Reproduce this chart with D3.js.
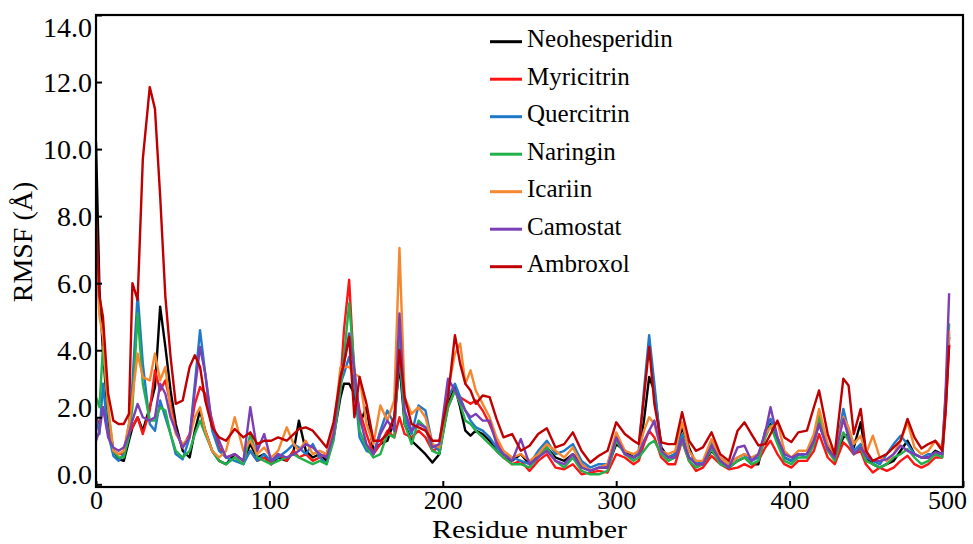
<!DOCTYPE html>
<html><head><meta charset="utf-8">
<script src="https://cdn.jsdelivr.net/npm/d3@7"></script>
<style>
body{margin:0;background:#fff;}
svg{display:block;}
text{font-family:"Liberation Serif","Tinos","Times New Roman",serif;fill:#000;}
</style>
</head><body><svg id="chart" width="973" height="544"></svg>
<script>
const residues = [
  0,2,4,7,10,13,16,19,21,24,
  27,31,34,37,40,43,46,50,54,57,
  60,63,67,71,75,80,85,89,93,97,
  101,105,110,114,117,121,125,129,133,137,
  141,143,146,149,152,156,160,164,168,172,
  175,178,182,186,190,194,198,203,207,210,
  213,216,219,223,227,231,235,240,245,250,
  255,260,265,270,275,280,285,290,295,300,
  305,310,313,316,319,322,326,330,334,338,
  342,346,350,355,360,365,370,374,378,382,
  386,389,393,397,401,405,410,414,417,422,
  426,431,434,437,441,444,448,452,456,460,
  464,468,472,476,480,484,488,490,492
];
const neohesperidin = [
  10.2,5.8,4.0,1.9,1.0,0.75,0.7,1.3,1.7,2.0,
  1.6,2.3,2.9,5.3,4.1,2.8,1.8,1.0,0.8,1.6,
  2.2,1.6,1.0,0.7,0.6,0.9,0.7,1.2,0.8,0.9,
  0.6,0.8,0.7,1.0,1.9,1.0,0.8,0.9,0.7,1.4,
  2.6,3.0,3.0,2.7,1.8,2.3,1.0,1.2,1.3,1.9,
  3.6,1.8,1.3,1.1,0.9,0.65,0.9,2.4,2.9,2.3,
  1.6,1.45,1.6,1.5,1.3,1.0,0.8,0.7,0.9,0.6,
  0.9,1.1,0.8,0.7,0.9,0.6,0.4,0.5,0.5,1.2,
  1.0,0.8,0.9,1.9,3.2,2.8,1.1,0.8,0.9,1.7,
  1.1,0.6,0.6,1.0,0.7,0.5,0.7,0.8,0.6,0.6,
  1.6,1.8,1.3,0.8,0.7,0.9,0.9,1.3,1.8,1.1,
  0.8,1.4,1.5,1.1,1.85,0.8,0.6,0.5,0.6,0.7,
  1.0,1.3,0.9,0.8,0.8,1.0,0.9,2.5,4.4
];
const myricitrin = [
  2.0,1.8,2.3,1.6,1.0,0.9,0.9,1.5,1.7,2.0,
  1.5,2.2,3.4,2.8,3.1,2.4,1.6,1.1,1.5,2.4,
  2.9,2.7,1.9,1.1,0.8,0.9,0.7,1.0,0.7,0.8,
  0.6,0.9,0.7,1.0,0.8,0.9,0.7,0.8,0.9,1.6,
  3.0,4.6,6.1,3.2,2.2,1.5,0.9,1.2,1.6,1.4,
  2.0,1.5,1.4,1.6,1.4,1.0,1.1,2.3,2.8,2.6,
  2.5,2.4,2.5,2.2,1.8,1.3,0.8,0.6,0.7,0.4,
  0.7,0.9,0.5,0.45,0.6,0.3,0.35,0.4,0.35,0.9,
  0.8,0.6,0.7,1.2,1.6,1.4,0.8,0.6,0.6,1.3,
  0.7,0.4,0.5,0.85,0.6,0.45,0.5,0.6,0.5,0.7,
  1.1,1.3,0.9,0.6,0.5,0.7,0.7,1.0,1.5,0.8,
  0.6,1.25,1.1,0.9,1.0,0.6,0.35,0.5,0.4,0.5,
  0.7,0.85,0.6,0.5,0.6,0.8,0.8,2.2,4.2
];
const quercitrin = [
  2.0,1.5,3.0,1.5,0.85,0.7,0.9,1.8,3.0,5.7,
  3.6,1.8,1.6,2.5,2.0,1.5,0.9,0.75,1.4,3.0,
  4.6,3.3,1.6,1.0,0.8,0.7,0.6,1.0,0.7,0.9,
  0.7,0.8,1.0,1.2,1.1,0.9,1.2,0.8,0.6,1.4,
  3.0,3.3,3.8,3.0,1.4,1.0,0.9,1.6,2.2,1.8,
  3.8,2.0,1.5,2.35,2.2,1.2,1.0,2.6,3.0,2.6,
  2.2,1.9,1.7,1.6,1.4,1.1,0.9,0.8,0.7,0.6,
  1.0,1.3,0.9,1.0,1.2,0.7,0.5,0.6,0.6,1.4,
  0.9,0.8,1.0,2.8,4.45,3.0,1.0,0.8,0.9,1.5,
  0.8,0.7,0.6,1.25,0.8,0.6,0.8,0.9,0.7,0.8,
  1.6,1.95,1.4,0.8,0.7,0.9,0.8,1.2,1.85,1.0,
  0.8,2.25,1.6,1.0,1.2,0.8,0.7,0.6,0.9,1.2,
  1.45,1.2,0.9,0.8,0.9,0.9,0.9,2.4,4.5
];
const naringin = [
  2.6,2.3,4.1,2.2,1.0,0.8,0.8,1.4,2.3,5.1,
  3.0,1.9,1.9,2.3,2.2,1.5,1.0,0.8,1.0,1.5,
  1.9,1.5,1.0,0.7,0.6,0.8,0.6,1.5,0.8,0.7,
  0.6,0.7,0.8,0.9,0.8,0.7,0.6,0.7,0.6,1.3,
  2.8,3.8,5.4,3.5,1.6,1.1,0.8,0.9,1.5,1.4,
  4.35,1.8,1.2,1.9,1.7,1.0,0.9,2.3,2.8,2.4,
  1.9,1.8,1.6,1.4,1.2,1.0,0.8,0.6,0.6,0.5,
  0.8,1.1,0.7,0.5,0.8,0.4,0.3,0.3,0.4,1.3,
  0.9,0.7,0.8,1.0,1.2,1.3,0.9,0.7,0.8,1.3,
  0.7,0.5,0.6,1.05,0.6,0.5,0.7,0.8,0.6,0.7,
  1.4,1.75,1.2,0.7,0.6,0.8,0.8,1.2,2.05,1.0,
  0.7,1.55,1.3,0.9,1.1,0.7,0.6,0.5,0.6,0.8,
  0.9,1.05,0.8,0.6,0.7,0.9,0.8,2.6,4.8
];
const icariin = [
  7.0,5.0,4.4,2.3,1.0,0.9,1.0,1.8,2.6,3.9,
  3.2,3.1,3.9,3.1,3.5,2.2,1.5,1.2,1.4,2.0,
  2.3,1.6,1.0,0.8,1.0,2.0,1.0,1.3,0.9,1.1,
  0.8,1.0,1.7,1.2,1.0,1.3,0.9,1.0,0.9,1.6,
  3.5,3.5,3.5,3.3,3.2,1.8,1.2,2.35,1.9,2.5,
  7.05,2.6,2.1,2.3,2.0,1.2,1.1,2.8,3.9,4.2,
  3.0,3.4,2.8,2.4,2.0,1.4,1.0,0.8,0.9,0.7,
  0.9,1.2,1.0,0.8,1.1,0.6,0.4,0.5,0.6,1.55,
  1.0,0.9,1.0,1.6,2.0,1.8,1.0,0.9,1.0,1.85,
  1.0,0.7,0.7,1.35,0.8,0.6,0.8,0.9,0.8,0.9,
  1.5,1.7,1.85,1.0,0.8,1.0,1.0,1.5,2.25,1.2,
  0.9,2.0,1.7,1.2,1.45,0.9,1.45,0.8,0.7,0.9,
  1.3,1.85,1.1,0.9,1.0,1.3,1.1,2.6,4.6
];
const camostat = [
  1.3,1.6,2.3,1.4,1.1,1.0,1.1,1.5,1.9,2.4,
  2.0,1.9,2.0,3.0,2.7,2.0,1.6,1.1,1.4,2.8,
  4.1,3.3,1.75,1.3,0.8,0.9,0.7,2.3,1.0,1.5,
  0.7,0.9,0.8,0.9,1.0,1.2,1.1,0.9,0.8,1.5,
  3.2,3.6,4.5,3.4,2.0,1.2,0.9,1.5,1.9,1.6,
  5.1,2.2,1.6,1.8,1.7,1.1,1.2,3.15,2.8,2.5,
  2.2,2.0,2.1,1.9,1.9,1.2,0.9,0.7,1.35,0.6,
  0.8,1.0,0.7,0.6,0.9,0.5,0.4,0.5,0.5,1.4,
  0.9,0.8,0.9,1.3,1.6,1.9,1.0,0.8,0.8,1.35,
  0.8,0.6,0.6,1.15,0.7,0.5,1.1,1.15,0.7,0.9,
  1.55,2.3,1.4,0.9,0.8,0.9,0.9,1.3,1.8,1.05,
  0.8,1.95,1.4,0.9,1.1,0.86,0.7,0.7,0.75,0.9,
  1.16,1.0,0.9,0.8,0.8,0.96,0.9,2.8,5.7
];
const ambroxol = [
  8.0,5.6,5.0,2.7,1.9,1.8,1.8,2.1,6.0,5.5,
  9.7,11.85,11.2,8.6,5.6,3.8,2.4,2.5,3.5,3.85,
  3.5,2.5,1.7,1.4,1.3,1.65,1.4,1.55,1.2,1.3,
  1.3,1.4,1.3,1.5,1.65,1.7,1.6,1.35,1.1,1.85,
  3.2,3.6,4.4,2.0,3.2,2.4,1.3,1.3,1.5,2.0,
  4.0,2.6,1.8,1.7,1.6,1.3,1.3,2.6,4.45,3.6,
  3.0,2.8,2.4,2.65,2.6,1.95,1.4,1.5,1.0,1.15,
  1.5,1.67,1.1,1.2,1.55,1.0,0.65,0.85,1.0,1.85,
  1.5,1.3,1.2,2.6,4.1,2.4,1.25,1.2,1.2,2.15,
  1.3,1.0,1.1,1.55,0.9,0.7,1.6,1.85,1.5,1.16,
  1.2,1.5,1.9,1.4,1.26,1.55,1.6,2.3,2.8,1.5,
  0.9,3.15,2.95,1.5,2.25,1.0,0.7,0.8,0.9,1.1,
  1.3,1.95,1.4,1.07,1.2,1.3,1.0,2.2,4.15
];

const seriesNames = ["Neohesperidin","Myricitrin","Quercitrin","Naringin","Icariin","Camostat","Ambroxol"];
const seriesValues = [neohesperidin, myricitrin, quercitrin, naringin, icariin, camostat, ambroxol];
const seriesColors = ["#000000","#ff1414","#1f78c8","#22b04b","#f5872e","#7b40b5","#c00000"];
const xTickValues = [0,100,200,300,400,500];
const yTickValues = [0,2,4,6,8,10,12,14];
const xTitle = "Residue number";
const yTitle = "RMSF (Å)";

const svg = d3.select("#chart");
const L = 96, R = 963, T = 15, B = 487;

const x = d3.scaleLinear().domain([0, 500]).range([L, R]);
const y = d3.scaleLinear().domain([-0.08, 14]).range([B, T]);

svg.append("clipPath").attr("id","clip")
  .append("rect").attr("x", L).attr("y", T).attr("width", R - L).attr("height", B - T);

const line = d3.line().x(d => x(d[0])).y(d => y(d[1]));

const g = svg.append("g").attr("clip-path","url(#clip)");
seriesValues.forEach((vals, i) => {
  const pts = residues.map((r, j) => [r, vals[j]]);
  g.append("path").datum(pts)
    .attr("d", line)
    .attr("fill","none")
    .attr("stroke", seriesColors[i])
    .attr("stroke-width", 2.4)
    .attr("stroke-linejoin","round");
});

// frame
svg.append("rect").attr("x", L).attr("y", T).attr("width", R - L).attr("height", B - T)
  .attr("fill","none").attr("stroke","#000").attr("stroke-width",2.2);

// x axis
const xAxis = svg.append("g").attr("transform", `translate(0,${B})`)
  .call(d3.axisBottom(x).tickValues(xTickValues).tickFormat(d3.format("d")).tickSize(-6).tickPadding(4));
xAxis.select(".domain").remove();
xAxis.selectAll(".tick line").attr("stroke","#000").attr("stroke-width",2);
xAxis.selectAll(".tick text").attr("font-size",26).attr("fill","#000");
xAxis.selectAll(".tick text").filter(d => d === 500).attr("dx", -16);

// y axis
const yAxis = svg.append("g").attr("transform", `translate(${L},0)`)
  .call(d3.axisLeft(y).tickValues(yTickValues).tickFormat(d3.format(".1f")).tickSize(-6).tickPadding(4));
yAxis.select(".domain").remove();
yAxis.selectAll(".tick line").attr("stroke","#000").attr("stroke-width",2);
yAxis.selectAll(".tick text").attr("font-size",28).attr("fill","#000");
yAxis.selectAll(".tick text").attr("transform", d => d === 14 ? "translate(0,13)" : (d <= 2 ? "translate(0,-10)" : null));

// axis titles
svg.append("text").attr("x", (L + R) / 2).attr("y", 538)
  .attr("text-anchor","middle").attr("font-size",25)
  .attr("textLength",195).attr("lengthAdjust","spacingAndGlyphs")
  .text(xTitle);
svg.append("text").attr("transform","translate(32,242) rotate(-90)")
  .attr("text-anchor","middle").attr("font-size",28)
  .text(yTitle);

// legend
const lg = svg.append("g");
seriesNames.forEach((name, i) => {
  const ly = 41.7 + i * 37.5;
  lg.append("line").attr("x1",490).attr("x2",522).attr("y1",ly).attr("y2",ly)
    .attr("stroke", seriesColors[i]).attr("stroke-width",3);
  lg.append("text").attr("x",527).attr("y", ly + 5.6).attr("font-size",25).text(name);
});
</script>
</body></html>
